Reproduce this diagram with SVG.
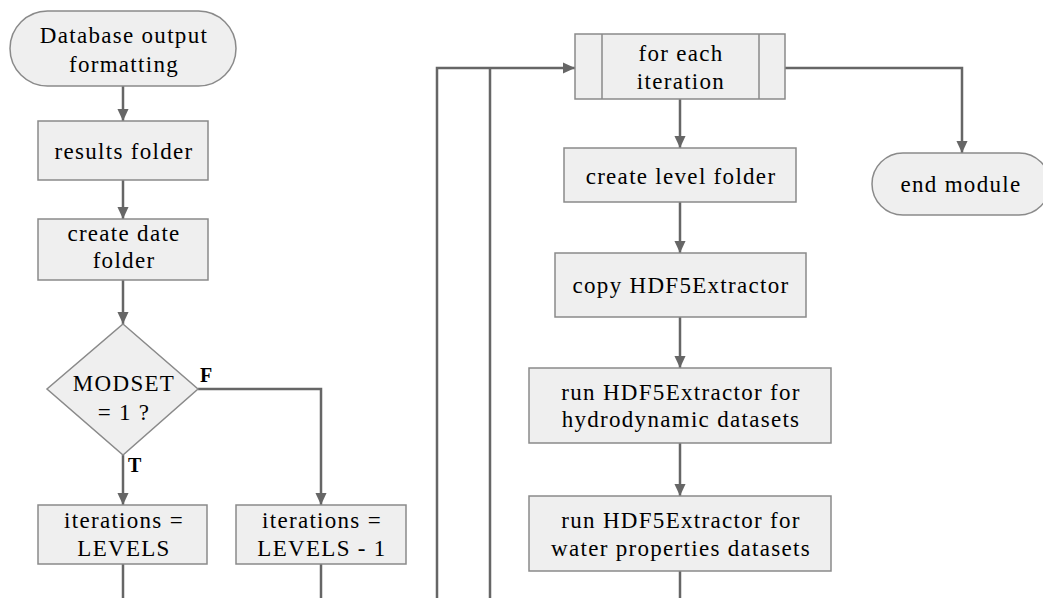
<svg xmlns="http://www.w3.org/2000/svg" width="1043" height="598" viewBox="0 0 1043 598">
  <style>
    .shape { fill: #efefef; stroke: #8a8a8a; stroke-width: 1.5; }
    .txt { font-family: "Liberation Serif", "Times New Roman", serif; font-size: 23px; letter-spacing: 1.3px; fill: #000; text-anchor: middle; }
    .flag { font-family: "Liberation Serif", "Times New Roman", serif; font-size: 20px; font-weight: bold; fill: #000; }
    .wire { fill: none; stroke: #666; stroke-width: 2.5; }
  </style>
  <defs>
    <marker id="arrow" markerUnits="userSpaceOnUse" markerWidth="12" markerHeight="14" refX="13" refY="6" viewBox="0 0 13 12" orient="auto">
      <path d="M0,0 L13,6 L0,12 Z" fill="#666"/>
    </marker>
  </defs>

  <rect width="1043" height="598" fill="#ffffff"/>

  <!-- connectors -->
  <g id="connectors">
    <path class="wire" d="M123,86 V121" marker-end="url(#arrow)"/>
    <path class="wire" d="M123,180 V219" marker-end="url(#arrow)"/>
    <path class="wire" d="M123,280 V324" marker-end="url(#arrow)"/>
    <path class="wire" d="M123,455 V505" marker-end="url(#arrow)"/>
    <path class="wire" d="M198,389 H321 V505" marker-end="url(#arrow)"/>
    <path class="wire" d="M123,564 V598"/>
    <path class="wire" d="M321,564 V598"/>
    <path class="wire" d="M437,598 V68 H575" marker-end="url(#arrow)"/>
    <path class="wire" d="M490,598 V68"/>
    <path class="wire" d="M680,99 V148" marker-end="url(#arrow)"/>
    <path class="wire" d="M680,202 V253" marker-end="url(#arrow)"/>
    <path class="wire" d="M680,317 V368" marker-end="url(#arrow)"/>
    <path class="wire" d="M680,443 V496" marker-end="url(#arrow)"/>
    <path class="wire" d="M680,571 V598"/>
    <path class="wire" d="M785,68 H962 V153" marker-end="url(#arrow)"/>
  </g>

  <!-- left column -->
  <g id="start">
    <rect class="shape" x="10" y="11" width="226" height="75" rx="37.5"/>
    <text class="txt" x="124" y="43">Database output</text>
    <text class="txt" x="124" y="72">formatting</text>
  </g>
  <g id="results-folder">
    <rect class="shape" x="38" y="121" width="170" height="59"/>
    <text class="txt" x="124" y="159">results folder</text>
  </g>
  <g id="date-folder">
    <rect class="shape" x="38" y="219" width="170" height="61"/>
    <text class="txt" x="124" y="241">create date</text>
    <text class="txt" x="124" y="268">folder</text>
  </g>
  <g id="modset-check">
    <polygon class="shape" points="123,324 198,389 123,455 47,389"/>
    <text class="txt" x="124" y="391">MODSET</text>
    <text class="txt" x="124" y="420">= 1 ?</text>
    <text class="flag" x="200" y="382">F</text>
    <text class="flag" x="128" y="472">T</text>
  </g>
  <g id="iterations-levels">
    <rect class="shape" x="38" y="505" width="169" height="59"/>
    <text class="txt" x="124" y="528">iterations =</text>
    <text class="txt" x="124" y="556">LEVELS</text>
  </g>
  <g id="iterations-levels-minus">
    <rect class="shape" x="236" y="505" width="170" height="59"/>
    <text class="txt" x="322" y="528">iterations =</text>
    <text class="txt" x="322" y="556">LEVELS - 1</text>
  </g>

  <!-- loop column -->
  <g id="for-each-iteration">
    <rect class="shape" x="575" y="34" width="210" height="65"/>
    <line class="shape" x1="602" y1="34" x2="602" y2="99"/>
    <line class="shape" x1="759" y1="34" x2="759" y2="99"/>
    <text class="txt" x="681" y="61">for each</text>
    <text class="txt" x="681" y="89">iteration</text>
  </g>
  <g id="level-folder">
    <rect class="shape" x="564" y="148" width="232" height="54"/>
    <text class="txt" x="681" y="184">create level folder</text>
  </g>
  <g id="copy-extractor">
    <rect class="shape" x="555" y="253" width="251" height="64"/>
    <text class="txt" x="681" y="293">copy HDF5Extractor</text>
  </g>
  <g id="run-hydro">
    <rect class="shape" x="529" y="368" width="302" height="75"/>
    <text class="txt" x="681" y="400">run HDF5Extractor for</text>
    <text class="txt" x="681" y="427">hydrodynamic datasets</text>
  </g>
  <g id="run-water">
    <rect class="shape" x="529" y="496" width="302" height="75"/>
    <text class="txt" x="681" y="528">run HDF5Extractor for</text>
    <text class="txt" x="681" y="556">water properties datasets</text>
  </g>
  <g id="end-module">
    <rect class="shape" x="872" y="153" width="178" height="62" rx="31"/>
    <text class="txt" x="961" y="192">end module</text>
  </g>
</svg>
